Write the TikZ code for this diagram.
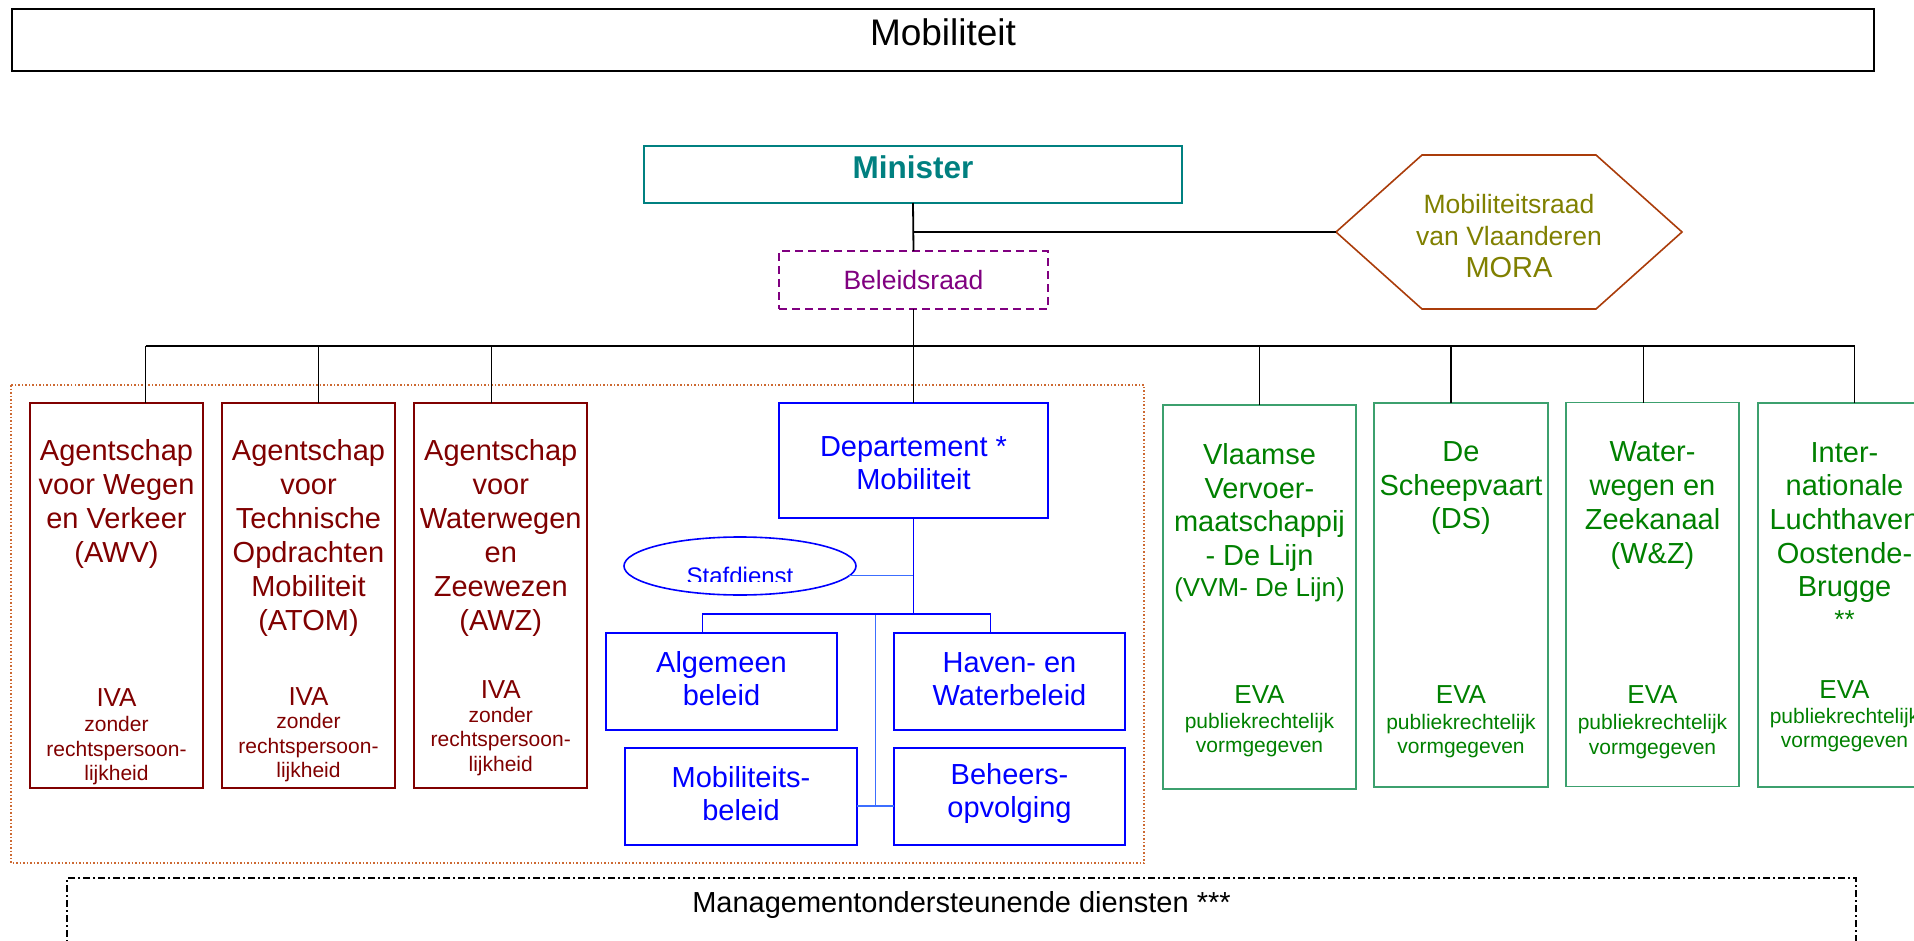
\documentclass[tikz,border=0pt]{standalone}
\usepackage{fontspec}
\setmainfont{Liberation Sans}
\usetikzlibrary{shapes.geometric}
\definecolor{cteal}{RGB}{0,128,128}
\definecolor{cpurple}{RGB}{128,0,128}
\definecolor{cbrown}{RGB}{170,60,10}
\definecolor{colive}{RGB}{128,128,0}
\definecolor{cred}{RGB}{128,0,0}
\definecolor{cblue}{RGB}{0,0,255}
\definecolor{clblue}{RGB}{60,110,255}
\definecolor{cgreen}{RGB}{0,128,0}
\definecolor{cgborder}{RGB}{60,160,110}
\definecolor{corange}{RGB}{205,105,50}
\begin{document}
\begin{tikzpicture}[x=1pt,y=-1pt,
  every node/.style={inner sep=0pt, outer sep=0pt},
  conn/.style={draw=black, line width=1.8pt},
  redbox/.style={draw=cred, line width=1.8pt, minimum width=173pt, minimum height=385pt},
  grbox/.style={draw=cgborder, line width=1.8pt, minimum width=173pt, minimum height=384pt},
  bluebox/.style={draw=cblue, line width=1.8pt, minimum width=231pt, minimum height=97pt},
  t29/.style={font=\fontsize{29}{34}\selectfont, align=center},
  t26/.style={font=\fontsize{26}{29}\selectfont, align=center},
  t21/.style={font=\fontsize{21}{24.5}\selectfont, align=center}]
\useasboundingbox (0,0) rectangle (1914,941);
\clip (0,0) rectangle (1914,941);

% title
\node[draw=black, line width=2pt, minimum width=1862pt, minimum height=62pt] (title) at (943,40) {};
\node[font=\fontsize{37}{40}\selectfont] (titletxt) at (943,32) {Mobiliteit};

% dotted frame
\draw[corange, line width=1.5pt, dotted] (11,385) rectangle (1144,863);

% minister, beleidsraad, mora
\node[draw=cteal, line width=1.8pt, minimum width=538pt, minimum height=57pt] (min) at (913,174.5) {};
\node[font=\bfseries\fontsize{31.5}{34}\selectfont, text=cteal] (mintxt) at (913,167) {Minister};
\node[draw=cpurple, line width=1.8pt, dash pattern=on 8pt off 5pt, minimum width=269pt, minimum height=58pt, text=cpurple, font=\fontsize{26.5}{30}\selectfont] (bel) at (913.5,280) {Beleidsraad};
\draw[cbrown, line width=1.6pt] (1336,232) -- (1422,155) -- (1596,155) -- (1682,232) -- (1596,309) -- (1422,309) -- cycle;
\coordinate (moraW) at (1336,232);
\node[font=\fontsize{26.5}{32}\selectfont, align=center, text=colive] (mora) at (1509,236) {Mobiliteitsraad\\van Vlaanderen\\{\fontsize{29}{32}\selectfont MORA}};

% red boxes
\node[redbox] (r1) at (116.5,595.5) {};
\node[redbox] (r2) at (308.5,595.5) {};
\node[redbox] (r3) at (500.75,595.5) {};
\node[t29, text=cred] at (116.5,504) {Agentschap\\voor Wegen\\en Verkeer\\(AWV)};
\node[t26, text=cred] at (116.5,698) {IVA};
\node[t21, text=cred] at (116.5,751) {zonder\\rechtspersoon-\\lijkheid};
\node[t29, text=cred] at (308.5,538) {Agentschap\\voor\\Technische\\Opdrachten\\Mobiliteit\\(ATOM)};
\node[t26, text=cred] at (308.5,697) {IVA};
\node[t21, text=cred] at (308.5,748) {zonder\\rechtspersoon-\\lijkheid};
\node[t29, text=cred] at (500.75,538) {Agentschap\\voor\\Waterwegen\\en\\Zeewezen\\(AWZ)};
\node[t26, text=cred] at (500.75,690) {IVA};
\node[t21, text=cred] at (500.75,741.5) {zonder\\rechtspersoon-\\lijkheid};

% departement
\node[draw=cblue, line width=1.8pt, minimum width=269pt, minimum height=115pt] (dep) at (913.5,460.5) {};
\node[font=\fontsize{29}{33}\selectfont, align=center, text=cblue] at (913.5,463) {Departement *\\Mobiliteit};
\node[draw=cblue, ellipse, line width=1.6pt, minimum width=232pt, minimum height=58pt] (st) at (740,566) {};
\begin{scope}
\clip (600,540) rectangle (880,581);
\node[font=\fontsize{24}{28}\selectfont, text=cblue, anchor=base] (sttxt) at (740,584) {Stafdienst};
\end{scope}
\node[bluebox] (alg) at (721.5,681.5) {};
\node[bluebox] (hav) at (1009.5,681.5) {};
\node[bluebox, minimum width=232pt] (mob) at (741,796.5) {};
\node[bluebox] (beh) at (1009.5,796.5) {};
\node[font=\fontsize{29}{33}\selectfont, align=center, text=cblue] at (721.5,679) {Algemeen\\beleid};
\node[font=\fontsize{29}{33}\selectfont, align=center, text=cblue] at (1009.5,679) {Haven- en\\Waterbeleid};
\node[font=\fontsize{29}{33}\selectfont, align=center, text=cblue] at (741,793.5) {Mobiliteits-\\beleid};
\node[font=\fontsize{29}{33}\selectfont, align=center, text=cblue] at (1009.5,793.5) {Beheers-\\opvolging};

% green boxes
\node[grbox, minimum width=193pt] (g1) at (1259.5,597) {};
\node[grbox, minimum width=174pt] (g2) at (1461,595) {};
\node[grbox] (g3) at (1652.5,594.5) {};
\node[grbox] (g4) at (1844.5,595) {};
\node[t29, font=\fontsize{29}{33.7}\selectfont, text=cgreen] at (1259.5,507.5) {Vlaamse\\Vervoer-\\maatschappij\\- De Lijn};
\node[t26, text=cgreen] at (1259.5,590) {(VVM- De Lijn)};
\node[t26, text=cgreen] at (1259.5,695) {EVA};
\node[t21, text=cgreen] at (1259.5,735) {publiekrechtelijk\\vormgegeven};
\node[t29, font=\fontsize{29}{33.5}\selectfont, text=cgreen] at (1461,488.5) {De\\Scheepvaart\\(DS)};
\node[t26, text=cgreen] at (1461,695) {EVA};
\node[t21, text=cgreen] at (1461,736) {publiekrechtelijk\\vormgegeven};
\node[t29, text=cgreen] at (1652.5,506) {Water-\\wegen en\\Zeekanaal\\(W\&Z)};
\node[t26, text=cgreen] at (1652.5,695) {EVA};
\node[t21, text=cgreen] at (1652.5,736.5) {publiekrechtelijk\\vormgegeven};
\node[t29, font=\fontsize{29}{33.7}\selectfont, text=cgreen] at (1844.5,522.5) {Inter-\\nationale\\Luchthaven\\Oostende-\\Brugge};
\node[t26, text=cgreen] at (1844.5,620) {**};
\node[t26, text=cgreen] at (1844.5,690) {EVA};
\node[t21, text=cgreen] at (1844.5,730) {publiekrechtelijk\\vormgegeven};

% management
\node[draw=black, line width=1.5pt, dash pattern=on 7pt off 3pt on 2pt off 3pt, minimum width=1789pt, minimum height=120pt] (mgmt) at (961.5,938) {};
\node[font=\fontsize{29}{33}\selectfont] (mgmttxt) at (961.5,905) {Managementondersteunende diensten ***};

% black connectors
\coordinate (bus) at (913.5,346);
\draw[conn] (min.south) -- (bel.north);
\draw[conn] (min.south |- moraW) -- (moraW);
\draw[conn] (bel.south) -- (dep.north);
\draw[conn] ([xshift=29pt]r1.north |- bus) -- ([xshift=10pt]g4.north |- bus);
\draw[conn] ([xshift=29pt]r1.north) -- ([xshift=29pt]r1.north |- bus);
\draw[conn] ([xshift=10pt]r2.north) -- ([xshift=10pt]r2.north |- bus);
\draw[conn] ([xshift=-9.3pt]r3.north) -- ([xshift=-9.3pt]r3.north |- bus);
\draw[conn] (g1.north) -- (g1.north |- bus);
\draw[conn] ([xshift=-10pt]g2.north) -- ([xshift=-10pt]g2.north |- bus);
\draw[conn] ([xshift=-9pt]g3.north) -- ([xshift=-9pt]g3.north |- bus);
\draw[conn] ([xshift=10pt]g4.north) -- ([xshift=10pt]g4.north |- bus);

% blue connectors
\coordinate (sbus) at (913.5,614);
\coordinate (lbtop) at (875.4,614);
\coordinate (lbbot) at (875.4,806);
\draw[clblue, line width=1.6pt] (st.-5) -- (st.-5 -| sbus);
\draw[clblue, line width=1.6pt] (lbtop) -- (lbbot);
\draw[clblue, line width=1.6pt] (mob.east |- lbbot) -- (beh.west |- lbbot);
\draw[cblue, line width=1.8pt] (dep.south) -- (sbus);
\draw[cblue, line width=1.8pt] ([xshift=-19pt]alg.north) |- (sbus) -| ([xshift=-19pt]hav.north);
\end{tikzpicture}
\end{document}
